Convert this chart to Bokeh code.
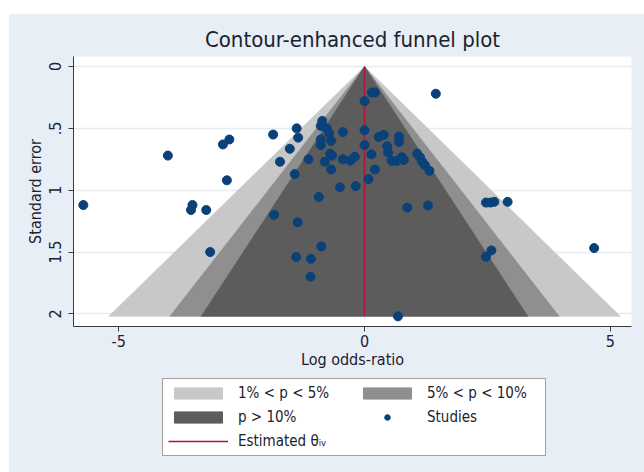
import numpy as np
from bokeh.plotting import figure
from bokeh.models import Range1d, FixedTicker, Legend, LegendItem, Spacer
from bokeh.layouts import column, row
from bokeh.embed import file_html
from bokeh.resources import INLINE

# ---- data -------------------------------------------------------------
log_or = [-5.72, -4.00, -2.88, -2.75, -2.80, -3.50, -3.53, -3.22, -3.14,
          -1.86, -1.38, -1.35, -1.52, -1.72, -1.42, -1.14, -1.84, -1.36,
          -0.93, -0.88, -1.39, -1.09, -1.10, -0.86, -0.89, -0.77, -0.72,
          -0.68, -0.89, -0.89, -0.44, 0.00, 0.00, -0.70, -0.66, -0.81,
          -0.44, -0.29, -0.20, -0.68, -0.50, -0.18, 0.08, 0.14, 0.15,
          0.21, 0.00, 1.45, 0.29, 0.39, 0.70, 0.70, 0.46, 0.48, 0.55,
          0.65, 0.76, 0.80, 1.07, 1.13, 1.17, 1.23, 1.32, 0.21, 0.87,
          1.29, 2.47, 2.56, 2.64, 2.91, 4.67, 2.47, 2.58, 0.68]
std_err = [1.12, 0.72, 0.63, 0.59, 0.92, 1.12, 1.16, 1.16, 1.50,
           0.55, 0.50, 0.575, 0.665, 0.77, 0.87, 0.75, 1.20, 1.26,
           1.055, 1.455, 1.54, 1.555, 1.70, 0.44, 0.48, 0.50, 0.54,
           0.60, 0.59, 0.635, 0.53, 0.515, 0.635, 0.705, 0.72, 0.77,
           0.75, 0.76, 0.73, 0.833, 0.977, 0.967, 0.91, 0.71, 0.21,
           0.21, 0.28, 0.22, 0.57, 0.553, 0.567, 0.61, 0.645, 0.695, 0.763,
           0.763, 0.733, 0.755, 0.704, 0.735, 0.768, 0.798, 0.843, 0.833, 1.14,
           1.124, 1.10, 1.10, 1.094, 1.094, 1.468, 1.538, 1.487, 2.02]

theta_iv = 0.0          # estimated effect (inverse variance)
null_effect = 0.0       # contours are centred on the null
se_max = 2.02           # largest standard error
contour_z = [2.576, 1.960, 1.645]        # p = 1%, 5%, 10%
contour_labels = ["1% < p < 5%", "5% < p < 10%", "p > 10%"]
contour_colors = ["#c8c8c8", "#8f8f8f", "#5c5c5c"]

x_ticks = [-5, 0, 5]
x_tick_labels = ["-5", "0", "5"]
y_ticks = [0, 0.5, 1, 1.5, 2]
y_tick_labels = ["0", ".5", "1", "1.5", "2"]

FONT = "DejaVu Sans Condensed"
BG = "#e7eef6"
TXT = "#1b2230"
DOT = "#0a4178"
RED = "#b3123d"

X_RANGE = (-5.92, 5.43)
Y_RANGE = (2.102, -0.081)


def funnel(z):
    return ([null_effect - z * se_max, null_effect, null_effect + z * se_max],
            [se_max, 0, se_max])


# ---- main figure ------------------------------------------------------
p = figure(width=635, height=359, output_backend="svg", toolbar_location=None,
           x_range=Range1d(*X_RANGE), y_range=Range1d(*Y_RANGE),
           min_border_left=64, min_border_right=13, min_border_top=42,
           min_border_bottom=47,
           background_fill_color="white", border_fill_color=BG,
           outline_line_color=None, title="Contour-enhanced funnel plot")

p.title.align = "center"
p.title.text_font = FONT
p.title.text_font_size = "22px"
p.title.text_font_style = "normal"
p.title.text_color = TXT

for z, col in zip(contour_z, contour_colors):
    fx, fy = funnel(z)
    p.patch(x=fx, y=fy, fill_color=col, line_color=col, line_width=0.5)

p.line(x=[theta_iv, theta_iv], y=[0, se_max], line_color=RED, line_width=1.5)
p.scatter(x=log_or, y=std_err, size=9, fill_color=DOT, line_color=DOT)

p.xgrid.visible = False
p.ygrid.grid_line_color = "#e3ecf2"
p.ygrid.grid_line_width = 1.5
p.xaxis.ticker = FixedTicker(ticks=x_ticks)
p.yaxis.ticker = FixedTicker(ticks=y_ticks)
p.xaxis.major_label_overrides = {t: l for t, l in zip(x_ticks, x_tick_labels)}
p.yaxis.major_label_overrides = {t: l for t, l in zip(y_ticks, y_tick_labels)}
p.yaxis.major_label_orientation = "vertical"
p.xaxis.axis_label = "Log odds-ratio"
p.yaxis.axis_label = "Standard error"
for ax in (p.xaxis, p.yaxis):
    ax.minor_tick_line_color = None
    ax.major_tick_in = 0
    ax.major_tick_out = 5
    ax.axis_line_color = "#3a3a3a"
    ax.major_tick_line_color = "#3a3a3a"
    ax.major_label_text_font = FONT
    ax.major_label_text_font_size = "16px"
    ax.major_label_text_color = TXT
    ax.axis_label_text_font = FONT
    ax.axis_label_text_font_size = "16px"
    ax.axis_label_text_font_style = "normal"
    ax.axis_label_text_color = TXT
p.xaxis.major_label_standoff = 3
p.yaxis.major_label_standoff = 7
p.xaxis.axis_label_standoff = 0
p.yaxis.axis_label_standoff = 2

# ---- legend panel (separate figure below the axis) ---------------------
# the legend renderers reuse the data, but this panel's ranges keep them out of view
lg = figure(width=635, height=99, output_backend="svg", toolbar_location=None,
            x_range=Range1d(100, 101), y_range=Range1d(100, 101),
            min_border=0, background_fill_color=None, border_fill_color=BG,
            outline_line_color=None)
lg.axis.visible = False
lg.grid.visible = False
lr = []
for z, col in zip(contour_z, contour_colors):
    fx, fy = funnel(z)
    lr.append(lg.patch(x=fx, y=fy, fill_color=col, line_color=col))
l_pts = lg.scatter(x=log_or, y=std_err, size=8, fill_color=DOT, line_color=DOT)
l_line = lg.line(x=[theta_iv, theta_iv], y=[0, se_max], line_color=RED, line_width=1.5)

items = [
    LegendItem(label=contour_labels[0], renderers=[lr[0]]),
    LegendItem(label=contour_labels[1], renderers=[lr[1]]),
    LegendItem(label=contour_labels[2], renderers=[lr[2]]),
    LegendItem(label="Studies", renderers=[l_pts]),
    LegendItem(label="Estimated \u03b8\u1d62\u1d65", renderers=[l_line]),
]
legend = Legend(items=items, orientation="horizontal", ncols=2, location=(89, 16),
                glyph_width=60, glyph_height=14, label_standoff=10,
                label_width=113, label_height=17, spacing=6, padding=5, margin=0,
                label_text_font=FONT, label_text_font_size="15px", label_text_color=TXT,
                border_line_color="#444444", border_line_width=1,
                background_fill_color="white", background_fill_alpha=1.0)
lg.add_layout(legend, "center")

inner = column(p, lg, spacing=0, styles={"background-color": BG})
layout = row(Spacer(width=9, height=472),
             column(Spacer(height=14, width=635), inner, spacing=0), spacing=0)
open("out.html", "w").write(file_html(layout, INLINE))
